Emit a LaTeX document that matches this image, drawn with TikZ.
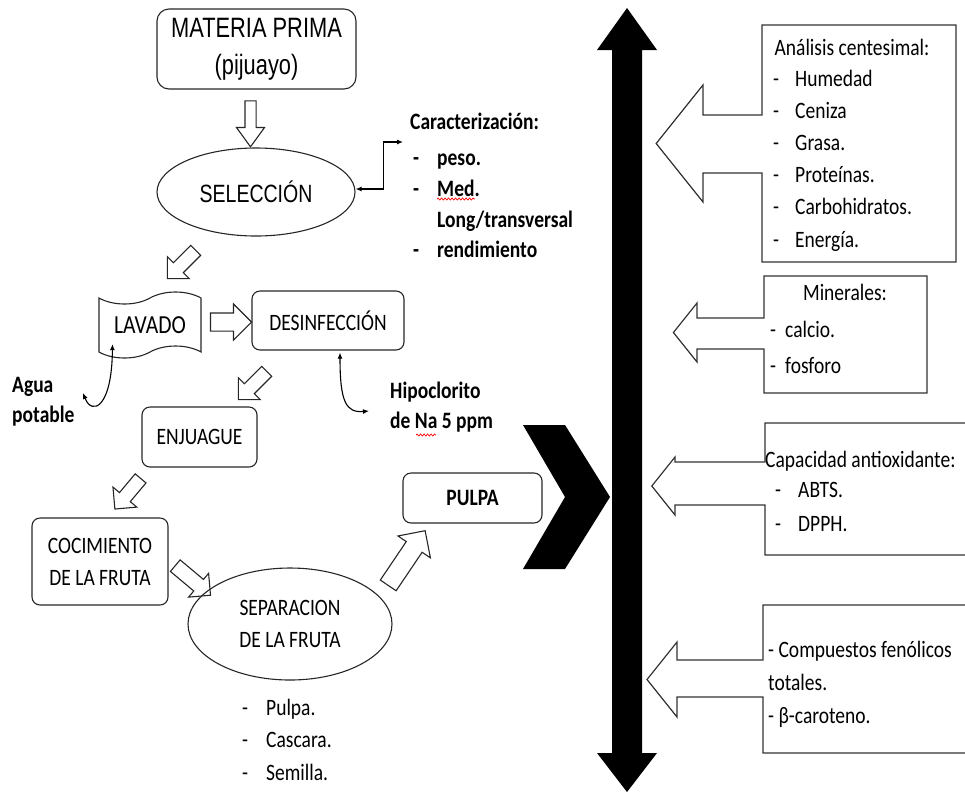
\documentclass[tikz,border=0pt]{standalone}
\usepackage{fontspec}
\setmainfont{Carlito}[FakeStretch=0.83]
\newfontfamily\narrowsans{Liberation Sans}[FakeStretch=0.78]
\usetikzlibrary{shapes.geometric,shapes.symbols,shapes.arrows,arrows.meta,decorations.pathmorphing}

\tikzset{
  txt/.style={font=\fontsize{23.5}{32}\selectfont},
  btxt/.style={font=\fontsize{23.5}{32}\selectfont\bfseries},
  proc/.style={draw=black!85, rounded corners=8pt, line width=1.1pt, inner sep=0pt, align=center, txt},
  oval/.style={draw=black!85, ellipse, line width=1.1pt, inner sep=0pt, align=center},
  harrow/.style={single arrow, draw=black!85, line width=1.1pt, inner xsep=0pt, single arrow tip angle=90},
  lbl/.style={inner sep=0pt, anchor=base west, txt},
  tip/.style={line width=1.1pt, {Latex[length=6pt,width=5pt]}-{Latex[length=6pt,width=5pt]}},
  callout/.style={draw=black!80, line width=1.2pt},
  squig/.style={red, line width=0.7pt, decorate, decoration={snake, amplitude=1pt, segment length=3.5pt}}
}
% box with a left arrow: x1,y1,x2,y2, shaft top/bottom, head base x, head top/bottom
\newcommand\callout[9]{%
  \draw[callout] (#1,#2) -- (#3,#2) -- (#3,#4) -- (#1,#4) -- (#1,#6) -- (#7,#6) -- (#7,#9)
    -- ({#7-0.4*(#9-#8)},{(#8+#9)/2}) -- (#7,#8) -- (#7,#5) -- (#1,#5) -- cycle;}

\begin{document}
\begin{tikzpicture}[x=1pt, y=-1pt]
  \useasboundingbox (0,0) rectangle (965,796);
  \clip (0,0) rectangle (965,796);

  % process chain
  \node[proc, rounded corners=12pt, minimum width=199, minimum height=80,
        font=\narrowsans\fontsize{28}{37}\selectfont] (mp) at (256.5,49) {MATERIA PRIMA\\(pijuayo)};
  \node[oval, minimum width=198, minimum height=88,
        font=\narrowsans\fontsize{25}{30}\selectfont] (sel) at (256,192) {SELECCIÓN};
  \node[tape, draw=black!85, line width=1.1pt, minimum width=102, minimum height=66,
        tape bend height=12, inner sep=0pt, font=\fontsize{26}{30}\selectfont] (lav) at (150,325) {LAVADO};
  \node[proc, minimum width=152, minimum height=59] (des) at (328,320.5) {DESINFECCIÓN};
  \node[proc, minimum width=115, minimum height=60] (enj) at (199.5,437) {ENJUAGUE};
  \node[proc, minimum width=136, minimum height=87] (coc) at (100,561.5) {COCIMIENTO\\DE LA FRUTA};
  \node[oval, minimum width=204, minimum height=112, txt] (sep) at (290,624) {SEPARACION\\DE LA FRUTA};
  \node[proc, minimum width=139, minimum height=50, btxt] (pul) at (472.5,498) {PULPA};

  % hollow arrows
  \node[harrow, minimum height=46, minimum width=27, inner ysep=5pt, single arrow head extend=8.5,
        single arrow tip angle=72, rotate=-90] (a1) at (250.5,120) {};
  \node[harrow, minimum height=40, minimum width=30, inner ysep=6.5pt, single arrow head extend=8.5, rotate=225] (a2) at (184,262) {};
  \node[harrow, minimum height=41, minimum width=35, inner ysep=8.5pt, single arrow head extend=9] (a3) at (226.5,322) {};
  \node[harrow, minimum height=40, minimum width=30, inner ysep=6.5pt, single arrow head extend=8.5, rotate=225] (a4) at (255,383) {};
  \node[harrow, minimum height=40, minimum width=30, inner ysep=6.5pt, single arrow head extend=8.5, rotate=230] (a5) at (130,491) {};
  \node[harrow, minimum height=46, minimum width=30, inner ysep=7pt, single arrow head extend=8, rotate=-40] (a6) at (190,578) {};
  \node[harrow, minimum height=66, minimum width=38, inner ysep=9pt, single arrow head extend=10, rotate=56] (a7) at (404,562) {};

  % Caracterizacion
  \node[lbl, btxt] (car) at (410,129) {Caracterización:};
  \foreach \t/\y [count=\i] in {peso./165, Med./196, rendimiento/257} {
    \node[lbl, btxt] (cd\i) at (413,\y) {-};
    \node[lbl, btxt] (ct\i) at (437,\y) {\t};
  }
  \node[lbl, btxt] (ctl) at (437,227) {Long/transversal};
  \draw[squig] (437,199) -- (475,199);
  \coordinate (carin) at (403,142);
  \draw[tip] ([yshift=3]sel.east) -- ++(28,0) |- (carin);

  % Agua potable
  \node[lbl, btxt] (agua1) at (12,392) {Agua};
  \node[lbl, btxt] (agua2) at (12,422) {potable};
  \coordinate (aguatip) at (83,393);
  \draw[tip] (aguatip) .. controls (92,416) and (112,408) .. ([shift={(14,-8)}]lav.south west);

  % Hipoclorito
  \node[lbl, btxt] (hip1) at (390,398) {Hipoclorito};
  \node[lbl, btxt] (hip2) at (390,428) {de Na 5 ppm};
  \draw[squig] (416,435) -- (436,435);
  \coordinate (hiptip) at (369,411);
  \draw[tip] ([xshift=12,yshift=-2]des.south) .. controls (340,402) and (346,413) .. (hiptip);

  % products of separation
  \foreach \t/\y [count=\i] in {Pulpa./715, Cascara./747, Semilla./780} {
    \node[lbl] (sd\i) at (242,\y) {-};
    \node[lbl] (st\i) at (266,\y) {\t};
  }

  % chevron and axis arrow
  \fill (523,425) -- (565,425) -- (610,497) -- (565,569) -- (523,569) -- (565,497) -- cycle;
  \fill (627,8) -- (657,50) -- (642,50) -- (642,753) -- (657,753) -- (627,792)
    -- (597,753) -- (612,753) -- (612,50) -- (597,50) -- cycle;

  % analyses
  \callout{762}{25}{956}{262}{115}{173}{703}{85}{202}
  \node[txt, inner sep=0pt, anchor=base] (cen) at (852,55) {Análisis centesimal:};
  \foreach \t [count=\i] in {Humedad, Ceniza, Grasa., Proteínas., Carbohidratos., Energía.} {
    \node[lbl] (cnd\i) at (773,{86+32.2*(\i-1)}) {-};
    \node[lbl] (cnt\i) at (795,{86+32.2*(\i-1)}) {\t};
  }

  \callout{764}{276}{927}{393}{318}{349}{697}{303}{362}
  \node[txt, inner sep=0pt, anchor=base] (min) at (845,300) {Minerales:};
  \foreach \t/\y [count=\i] in {calcio./337, fosforo/373} {
    \node[lbl] (mnd\i) at (770,\y) {-};
    \node[lbl] (mnt\i) at (785,\y) {\t};
  }

  \callout{765}{423}{985}{555}{462}{505}{675}{457}{515}
  \node[lbl] (cap) at (765,467) {Capacidad antioxidante:};
  \foreach \t/\y [count=\i] in {ABTS./497, DPPH./531} {
    \node[lbl] (cpd\i) at (775,\y) {-};
    \node[lbl] (cpt\i) at (798,\y) {\t};
  }

  \callout{763}{605}{985}{753}{660}{697}{677}{642}{717}
  \node[lbl] (fen1) at (768,657) {- Compuestos fenólicos};
  \node[lbl] (fen2) at (768,690) {totales.};
  \node[lbl] (fen3) at (768,723) {- β-caroteno.};
\end{tikzpicture}
\end{document}
